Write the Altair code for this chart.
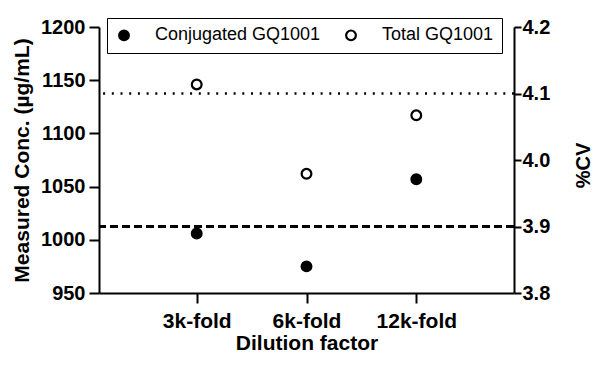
import altair as alt
import pandas as pd

dilution = ["3k-fold", "6k-fold", "12k-fold"]
conjugated = [1006, 975, 1057]
total = [1146, 1062, 1117]
series_names = ["Conjugated GQ1001", "Total GQ1001"]
cv_names = ["Conjugated %CV", "Total %CV"]
cv_values = [3.9, 4.1]

FONT = "Liberation Sans"

rows = []
for d, c, t in zip(dilution, conjugated, total):
    rows.append({"Dilution": d, "Conc": c, "Series": series_names[0]})
    rows.append({"Dilution": d, "Conc": t, "Series": series_names[1]})
df = pd.DataFrame(rows)
cv_df = pd.DataFrame({"Line": cv_names, "CV": cv_values})

points = alt.Chart(df).mark_point(
    filled=True, size=95, stroke="black", strokeWidth=2.2, opacity=1
).encode(
    x=alt.X(
        "Dilution:N", sort=dilution,
        scale=alt.Scale(type="point", padding=0.89),
        axis=alt.Axis(
            title="Dilution factor", labelAngle=0, tickSize=10, labelPadding=7,
            labelFontSize=21, titleFontSize=21, titlePadding=1,
        ),
    ),
    y=alt.Y(
        "Conc:Q",
        scale=alt.Scale(domain=[950, 1200], nice=False, zero=False),
        axis=alt.Axis(
            title="Measured Conc. (µg/mL)", values=[950, 1000, 1050, 1100, 1150, 1200],
            format="d", tickSize=10, labelPadding=4, labelFontSize=20,
            titleFontSize=21, titlePadding=8,
        ),
    ),
    fill=alt.Fill(
        "Series:N",
        scale=alt.Scale(domain=series_names, range=["black", "white"]),
        legend=alt.Legend(
            title=None, orient="none", legendX=8, legendY=-9, direction="horizontal",
            strokeColor="black", fillColor="white", padding=8, labelFontSize=18,
            labelFont=FONT, labelColor="black", labelLimit=400, symbolSize=95,
            symbolStrokeWidth=2.2, symbolStrokeColor="black", symbolType="circle",
            labelOffset=22, columnPadding=20,
        ),
    ),
)

right_axis = alt.Axis(
    title="%CV", orient="right", values=[3.8, 3.9, 4.0, 4.1, 4.2], format=".1f",
    tickSize=7, labelPadding=1, labelFontSize=20, titleFontSize=20,
    titleAngle=270, titleBaseline="middle", titleAlign="center", titleX=69, titleY=138,
)

dashed = alt.Chart(cv_df).transform_filter(
    alt.datum.Line == cv_names[0]
).mark_rule(color="black", strokeWidth=2.8, strokeDash=[8, 4]).encode(
    y=alt.Y("CV:Q", scale=alt.Scale(domain=[3.8, 4.2], nice=False, zero=False), axis=right_axis)
)

dotted = alt.Chart(cv_df).transform_filter(
    alt.datum.Line == cv_names[1]
).mark_rule(color="black", strokeWidth=2.5, strokeDash=[2, 6.7]).encode(
    y=alt.Y("CV:Q", scale=alt.Scale(domain=[3.8, 4.2], nice=False, zero=False), axis=right_axis)
)

rules = alt.layer(dashed, dotted)

chart = alt.layer(rules, points).resolve_scale(y="independent").properties(
    width=415, height=266,
    autosize=alt.AutoSizeParams(type="none"),
    padding={"left": 91, "top": 19, "right": 79, "bottom": 65},
    background="white",
).configure_view(stroke=None).configure_axis(
    domainColor="black", domainWidth=2, tickColor="black", tickWidth=2,
    labelFont=FONT, titleFont=FONT, labelFontWeight="bold", titleFontWeight="bold",
    labelColor="black", titleColor="black", grid=False,
)

chart.save("out.html", embed_options={"renderer": "svg", "actions": False})
